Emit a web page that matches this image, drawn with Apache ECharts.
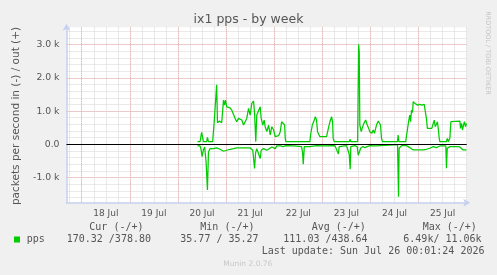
<!DOCTYPE html>
<html>
<head>
<meta charset="utf-8">
<script src="https://cdn.jsdelivr.net/npm/echarts@6/dist/echarts.min.js"></script>
<style>
  html, body { margin: 0; padding: 0; background: #f0f0f0; }
  #chart { width: 497px; height: 275px; }
</style>
</head>
<body>
<div id="chart"></div>
<script>
// time axis is in hours counted from 18 Jul 00:00
var dayLabels = ['18 Jul', '19 Jul', '20 Jul', '21 Jul', '22 Jul', '23 Jul', '24 Jul', '25 Jul'];
var dayLabelHours = [12, 36, 60, 84, 108, 132, 156, 180];
var dayStartHours = [0, 24, 48, 72, 96, 120, 144, 168];
var minorHours = [-6, 0, 6, 12, 18, 24, 30, 36, 42, 48, 54, 60, 66, 72, 78, 84, 90, 96, 102, 108, 114, 120,
  126, 132, 138, 144, 150, 156, 162, 168, 174, 180, 186, 192];
var yMajorTicks = [-1000, 0, 1000, 2000, 3000];
var yMinorTicks = [-1600, -1400, -1200, -1000, -800, -600, -400, -200, 0, 200, 400, 600, 800, 1000, 1200,
  1400, 1600, 1800, 2000, 2200, 2400, 2600, 2800, 3000, 3200, 3400];

// out (+)
var outHours = [57.7, 59, 59.8, 60.7, 62.3, 62.7, 63.2, 65.3, 66, 66.8, 67.3, 67.7, 68.7, 69.8, 70.7, 71.2,
  71.7, 72.3, 73.2, 74, 74.8, 75.7, 76.5, 77.3, 78.2, 79, 79.8, 80.7, 81.5, 82.3, 83.2, 84, 84.8, 85.7, 86.2,
  86.8, 87.3, 88.2, 89, 89.5, 90.3, 91, 91.5, 92.3, 93.2, 94, 94.8, 95.7, 96.5, 97.3, 98.2, 99, 99.7, 100.5,
  101.2, 101.5, 101.8, 113.8, 114.1, 115, 116, 116.5, 117.1, 117.6, 118.1, 118.8, 119.6, 120.4, 121.3, 122.1,
  123, 123.8, 124.6, 125.1, 125.4, 125.9, 133.4, 133.9, 134.2, 137.6, 138.1, 138.4, 138.7, 139.4, 140.1,
  140.7, 141.6, 142.4, 143.1, 143.7, 144.2, 144.7, 145.4, 146, 146.7, 147, 147.9, 148.4, 149, 149.5, 150,
  157.5, 157.8, 158.2, 161.6, 162, 162.3, 163, 163.6, 164, 164.5, 165, 165.3, 165.8, 166.3, 167, 167.5, 168,
  168.6, 169.1, 169.6, 170.3, 170.8, 171.3, 171.9, 172.4, 172.9, 173.6, 174.1, 174.6, 175.3, 175.8, 176.3,
  176.9, 177.4, 177.9, 178.3, 178.6, 181.9, 182.3, 182.8, 183.6, 184.1, 184.4, 188.6, 188.9, 189.4, 189.9,
  190.4, 190.9, 191.4, 191.9];
var outPps = [80, 80, 360, 80, 80, 210, 80, 80, 630, 650, 1790, 650, 700, 650, 1330, 1180,
  1330, 1130, 1180, 1100, 1030, 1030, 780, 680, 780, 750, 730, 580, 630, 780, 1080, 880, 1230, 1300, 930,
  80, 880, 930, 1130, 780, 580, 730, 530, 380, 580, 280, 530, 430, 230, 280, 260, 380, 680, 700,
  580, 180, 80, 80, 280, 580, 730, 830, 730, 380, 330, 230, 280, 230, 180, 230,
  480, 680, 830, 680, 180, 80, 80, 150, 80, 80, 3010, 2790, 580, 380, 530,
  630, 730, 580, 480, 380, 430, 330, 430, 330, 330, 580, 700, 680, 580, 180, 80,
  80, 280, 80, 80, 280, 380, 680, 880, 680, 1030, 960, 1280, 1300, 1230, 1200, 1180, 1230,
  1200, 1230, 1180, 1230, 1200, 1210, 780, 480, 480, 480, 530, 480, 630, 730, 530,
  580, 680, 430, 180, 80, 80, 180, 80, 180, 680, 700, 700, 480, 630, 430,
  580, 680, 530, 630];

// in (-), drawn below zero
var inHours = [57.7, 59, 59.5, 60, 60.7, 61.3, 62, 62.7, 63.2, 64, 64.8, 65.7, 66.5, 67.3, 69, 70.7, 72.3,
  74, 75.7, 77.3, 80.7, 84, 85.3, 86.2, 86.7, 87.3, 88.2, 89, 89.5, 90.7, 92.3, 93.2, 94.8, 96.5, 97.3, 99,
  99.7, 100.5, 101.8, 105.5, 109.6, 110.1, 110.5, 111, 113.8, 117.1, 120.4, 126.3, 127.1, 128, 128.4, 132.1,
  132.9, 133.4, 133.9, 134.2, 136.2, 137.4, 137.9, 138.4, 139.1, 140.1, 141.2, 142, 143.7, 144.5, 145.4,
  146.2, 147, 147.9, 148.7, 149.5, 157.5, 157.7, 158, 158.3, 159.5, 162, 162.8, 163.6, 164.5, 165.3, 167,
  170.3, 171.9, 173.6, 175.3, 176.9, 178.6, 181.6, 181.9, 182.3, 183.6, 186.9, 188.6, 189.4, 190.2, 191.1,
  191.9];
var inPps = [-40, -50, -150, -370, -170, -80, -520, -1380, -230, -130, -180, -130, -180, -110, -150, -210, -180,
  -150, -130, -110, -110, -110, -180, -730, -260, -130, -180, -430, -180, -130, -180, -130, -80, -130, -50, -50,
  -40, -70, -40, -50, -70, -220, -600, -70, -70, -40, -50, -40, -70, -290, -70, -40,
  -70, -300, -750, -70, -40, -70, -330, -270, -120, -70, -100, -70, -40, -70, -50,
  -80, -50, -70, -40, -10, -10, -70, -1580, -120, -40, -40, -70, -100, -140, -170, -170,
  -170, -150, -120, -70, -100, -50, -50, -720, -120, -70, -70, -80, -100, -170, -190,
  -170];

var green = '#00cc00';
var mono = 'DejaVu Sans Mono';

function pairs(xs, ys) {
  return xs.map(function (x, i) { return [x, ys[i]]; });
}

function txt(x, y, text, size, opts) {
  opts = opts || {};
  return {
    type: 'text',
    x: x,
    y: y,
    rotation: opts.rotation || 0,
    silent: true,
    style: {
      text: text,
      fontSize: size,
      fontFamily: opts.font || 'DejaVu Sans',
      fill: opts.color || '#555',
      textAlign: opts.align || 'left',
      textVerticalAlign: 'middle'
    }
  };
}

var chart = echarts.init(document.getElementById('chart'));

var axisColor = '#c8cff0';
var minorGrid = { show: true, lineStyle: { color: '#d4d4d4', width: 1, type: [1, 1] } };
var majorGrid = { show: true, lineStyle: { color: '#eeaaaa', width: 1, type: [1, 1] } };

var option = {
  backgroundColor: '#f0f0f0',
  animation: false,
  grid: {
    left: 66.5,
    right: 30.3,
    top: 27.3,
    bottom: 72.3,
    show: true,
    backgroundColor: '#ffffff',
    borderWidth: 0
  },
  xAxis: [{
    type: 'value',
    min: -7.6,
    max: 192,
    axisLine: {
      show: true, onZero: false,
      lineStyle: { color: axisColor, width: 1.5 },
      symbol: ['none', 'arrow'], symbolSize: [6, 7], symbolOffset: [0, 3.5]
    },
    axisTick: { show: false, customValues: minorHours },
    axisLabel: { show: false },
    splitLine: minorGrid
  }, {
    type: 'value',
    position: 'bottom',
    min: -7.6,
    max: 192,
    axisLine: { show: false, onZero: false },
    axisTick: { show: false, customValues: dayStartHours },
    axisLabel: {
      show: true,
      customValues: dayLabelHours,
      margin: 6,
      fontSize: 9,
      fontFamily: 'DejaVu Sans',
      color: '#555',
      formatter: function (v) { return dayLabels[dayLabelHours.indexOf(v)]; }
    },
    splitLine: majorGrid
  }],
  yAxis: [{
    type: 'value',
    position: 'left',
    min: -1760,
    max: 3525,
    axisLine: {
      show: true, onZero: false,
      lineStyle: { color: axisColor, width: 1.5 },
      symbol: ['none', 'arrow'], symbolSize: [6, 7], symbolOffset: [0, 3.5]
    },
    axisTick: { show: false, customValues: yMinorTicks },
    axisLabel: { show: false },
    splitLine: minorGrid
  }, {
    type: 'value',
    position: 'left',
    min: -1760,
    max: 3525,
    axisLine: { show: false, onZero: false },
    axisTick: { show: false, customValues: yMajorTicks },
    axisLabel: {
      show: true,
      customValues: yMajorTicks,
      margin: 7,
      fontSize: 9.3,
      fontFamily: 'DejaVu Sans',
      color: '#555',
      formatter: function (v) { return v === 0 ? '0.0' : (v / 1000).toFixed(1) + ' k'; }
    },
    splitLine: majorGrid
  }],
  series: [{
    name: 'out',
    type: 'line',
    xAxisIndex: 0,
    yAxisIndex: 0,
    showSymbol: false,
    silent: true,
    lineStyle: { color: green, width: 1.25 },
    data: pairs(outHours, outPps),
    markLine: {
      silent: true,
      symbol: ['none', 'none'],
      label: { show: false },
      lineStyle: { color: '#000', width: 1.2, type: 'solid' },
      data: [{ yAxis: 0 }]
    }
  }, {
    name: 'in',
    type: 'line',
    xAxisIndex: 0,
    yAxisIndex: 0,
    showSymbol: false,
    silent: true,
    lineStyle: { color: green, width: 1.25 },
    data: pairs(inHours, inPps)
  }],
  graphic: [
    txt(248.5, 19.3, 'ix1 pps - by week', 12.5, { align: 'center' }),
    txt(16, 116, 'packets per second in (-) / out (+)', 10.5, { align: 'center', rotation: Math.PI / 2 }),
    txt(487.3, 53, 'RRDTOOL / TOBI OETIKER', 6.5, { align: 'center', rotation: -Math.PI / 2, color: '#c4c4c4' }),
    txt(89.3, 227.7, 'Cur (-/+)', 10, { font: mono }),
    txt(200.3, 227.7, 'Min (-/+)', 10, { font: mono }),
    txt(311.7, 227.7, 'Avg (-/+)', 10, { font: mono }),
    txt(422.7, 227.7, 'Max (-/+)', 10, { font: mono }),
    {
      type: 'rect',
      silent: true,
      shape: { x: 14, y: 236.5, width: 6, height: 6 },
      style: { fill: green }
    },
    txt(26.7, 239.3, 'pps', 10, { font: mono }),
    txt(66.7, 239.3, '170.32 /378.80', 10, { font: mono }),
    txt(180.3, 239.3, '35.77 / 35.27', 10, { font: mono }),
    txt(283.3, 239.3, '111.03 /438.64', 10, { font: mono }),
    txt(403.3, 239.3, '6.49k/ 11.06k', 10, { font: mono }),
    txt(261.7, 251, 'Last update: Sun Jul 26 00:01:24 2026', 10, { font: mono }),
    txt(223.3, 264.3, 'Munin 2.0.76', 7.5, { color: '#c8c8c8' })
  ]
};

chart.setOption(option);
window.onresize = chart.resize;
</script>
</body>
</html>
